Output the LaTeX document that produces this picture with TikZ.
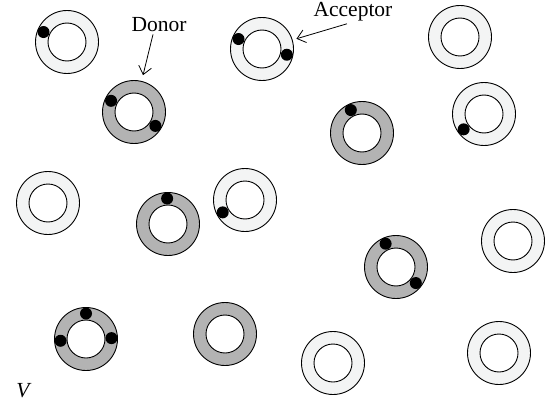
\documentclass[tikz,border=0pt]{standalone}
\usepackage{fontspec}
\setmainfont{Liberation Serif}
\usetikzlibrary{arrows.meta,positioning}
\definecolor{acceptorfill}{HTML}{F3F4F4}
\definecolor{donorfill}{HTML}{B3B3B3}

\begin{document}
\begin{tikzpicture}[x=1pt,y=-1pt,
    shell/.style={circle,draw,line width=0.9pt,minimum size=63pt,inner sep=0pt},
    accshell/.style={shell,fill=acceptorfill},
    donshell/.style={shell,fill=donorfill},
    core/.style={circle,draw,line width=0.9pt,fill=white,minimum size=38pt,inner sep=0pt},
    dye/.style={circle,fill=black,minimum size=12pt,inner sep=0pt},
    lbl/.style={font=\fontsize{21.5}{25}\selectfont,inner sep=0pt,anchor=base},
    pointer/.style={line width=0.8pt,-{Straight Barb[length=8pt,width=13pt]}}]
        \useasboundingbox (0,0) rectangle (549,404);

        % Acceptor shells
        \node[accshell] (A) at (67,42) {};   \node[core] (A0) at (A) {};
        \node[accshell] (C) at (262,49) {};  \node[core] (C0) at (C) {};
        \node[accshell] (D) at (460,37) {};  \node[core] (D0) at (D) {};
        \node[accshell] (F) at (484,114) {}; \node[core] (F0) at (F) {};
        \node[accshell] (G) at (48,203) {};  \node[core] (G0) at (G) {};
        \node[accshell] (I) at (245,200) {}; \node[core] (I0) at (I) {};
        \node[accshell] (M) at (513,241) {}; \node[core] (M0) at (M) {};
        \node[accshell] (N) at (333,363) {}; \node[core] (N0) at (N) {};
        \node[accshell] (O) at (499,353) {}; \node[core] (O0) at (O) {};

        % Donor shells
        \node[donshell] (B) at (134,112) {}; \node[core] (B0) at (B) {};
        \node[donshell] (E) at (362,133) {}; \node[core] (E0) at (E) {};
        \node[donshell] (H) at (168,224) {}; \node[core] (H0) at (H) {};
        \node[donshell] (J) at (86,339) {};  \node[core] (J0) at (J) {};
        \node[donshell] (K) at (225,334) {}; \node[core] (K0) at (K) {};
        \node[donshell] (L) at (396,267) {}; \node[core] (L0) at (L) {};

        % Dye molecules
        \node[dye] (A1) at ([shift={(157:25.5pt)}]A) {};
        \node[dye] (B1) at ([shift={(154:25.5pt)}]B) {};
        \node[dye] (B2) at ([shift={(-33:25.5pt)}]B) {};
        \node[dye] (C1) at ([shift={(157:25.5pt)}]C) {};
        \node[dye] (C2) at ([shift={(-13:25.5pt)}]C) {};
        \node[dye] (E1) at ([shift={(116:25.5pt)}]E) {};
        \node[dye] (F1) at ([shift={(217:25.5pt)}]F) {};
        \node[dye] (H1) at ([shift={(92:25.5pt)}]H) {};
        \node[dye] (I1) at ([shift={(209:25.5pt)}]I) {};
        \node[dye] (J1) at ([shift={(90:25.5pt)}]J) {};
        \node[dye] (J2) at ([shift={(184:25.5pt)}]J) {};
        \node[dye] (J3) at ([shift={(2:25.5pt)}]J) {};
        \node[dye] (L1) at ([shift={(114:25.5pt)}]L) {};
        \node[dye] (L2) at ([shift={(-39:25.5pt)}]L) {};

        % Labels
        \node[lbl] (donorlbl) at (159,32) {Donor};
        \node[lbl] (acceptorlbl) at (353,17) {Acceptor};
        \node[lbl] (vol) at (23,397) {\itshape V};

        \draw[pointer,shorten >=6pt] ([xshift=-6pt,yshift=-2pt]donorlbl.south) -- (B);
        \draw[pointer,shorten >=4pt] ([xshift=-6pt,yshift=-2pt]acceptorlbl.south) -- (C);
    \end{tikzpicture}
\end{document}
